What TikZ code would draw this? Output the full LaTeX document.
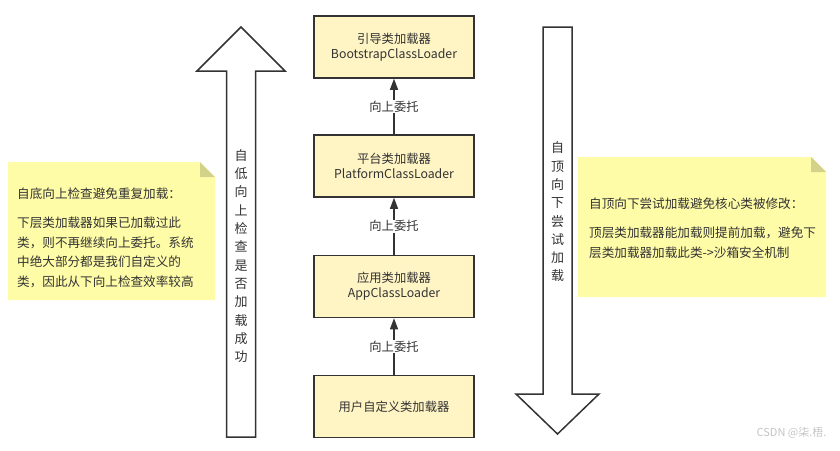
\documentclass[tikz,border=0pt]{standalone}
\usepackage{fontspec}
\setmainfont{Noto Sans CJK SC}
\usetikzlibrary{arrows.meta}

\definecolor{loaderfill}{HTML}{FFF4C4}
\definecolor{linegray}{HTML}{333333}
\definecolor{textgray}{HTML}{333333}
\definecolor{notefill}{HTML}{FFFCA8}
\definecolor{notefold}{HTML}{D2D28A}
\definecolor{markgray}{HTML}{C4C4C4}

\tikzstyle{loader}=[draw=linegray,line width=1.5pt,fill=loaderfill,minimum width=160pt,minimum height=62pt,inner sep=0pt,align=center,font=\fontsize{12.3}{15}\selectfont,text=textgray]
\tikzstyle{edge}=[draw=linegray,line width=1.2pt,-{Triangle[length=11pt,width=8pt]}]
\tikzstyle{weight}=[fill=white,font=\fontsize{12.3}{14}\selectfont,text=textgray,inner sep=1pt]
\tikzstyle{bigarrow}=[draw=linegray,line width=1.5pt,fill=white,line join=miter]
\tikzstyle{vtext}=[align=center,font=\fontsize{13}{18.3}\selectfont,text=textgray,inner sep=0pt]
\tikzstyle{note}=[fill=notefill]
\tikzstyle{fold}=[fill=notefold]
\tikzstyle{notetext}=[align=left,anchor=north west,font=\fontsize{12.6}{19.4}\selectfont,text=textgray,inner sep=0pt]

\begin{document}
\begin{tikzpicture}[x=1pt, y=-1pt]
    \useasboundingbox (0,0) rectangle (840,450);
    % First we draw the two big arrows
    \draw[bigarrow] (226.5,437) -- (226.5,71) -- (197,71) -- (241,27) -- (285,71) -- (255.5,71) -- (255.5,437) -- cycle;
    \node[vtext] (upcheck) at (241,256) {自\\低\\向\\上\\检\\查\\是\\否\\加\\载\\成\\功};
    \draw[bigarrow] (543,27) -- (572,27) -- (572,394) -- (599,394) -- (557.5,434) -- (516,394) -- (543,394) -- cycle;
    \node[vtext] (downtry) at (557.5,212) {自\\顶\\向\\下\\尝\\试\\加\\载};
    % The loaders
    \foreach \pos/\name/\text in {{(394,47)/boot/{引导类加载器\\BootstrapClassLoader}}, {(394,166)/plat/{平台类加载器\\PlatformClassLoader}}, {(394,286.5)/app/{应用类加载器\\AppClassLoader}}, {(394,406.5)/user/{用户自定义类加载器}}}
        \node[loader] (\name) at \pos {\text};
    % Delegate upwards
    \foreach \source/ \dest in {user/app,app/plat,plat/boot}
        \path[edge] (\source) -- node[weight] {向上委托} (\dest);
    % Notes on both sides
    \fill[note] (8,162) -- (200,162) -- (215,177) -- (215,300) -- (8,300) -- cycle;
    \fill[fold] (200,162) -- (200,177) -- (215,177) -- cycle;
    \node[notetext] (leftnote) at (17,188) {自底向上检查避免重复加载：\\[9.6pt]下层类加载器如果已加载过此\\类，则不再继续向上委托。系统\\中绝大部分都是我们自定义的\\类，因此从下向上检查效率较高};
    \fill[note] (578,157) -- (811,157) -- (826,172) -- (826,297) -- (578,297) -- cycle;
    \fill[fold] (811,157) -- (811,172) -- (826,172) -- cycle;
    \node[notetext] (rightnote) at (589,198) {自顶向下尝试加载避免核心类被修改：\\[9.6pt]顶层类加载器能加载则提前加载，避免下\\层类加载器加载此类->沙箱安全机制};
    \node[anchor=east,text=markgray,font=\fontsize{11}{13}\selectfont] (mark) at (830,433) {CSDN @柒.梧.};
\end{tikzpicture}
\end{document}
